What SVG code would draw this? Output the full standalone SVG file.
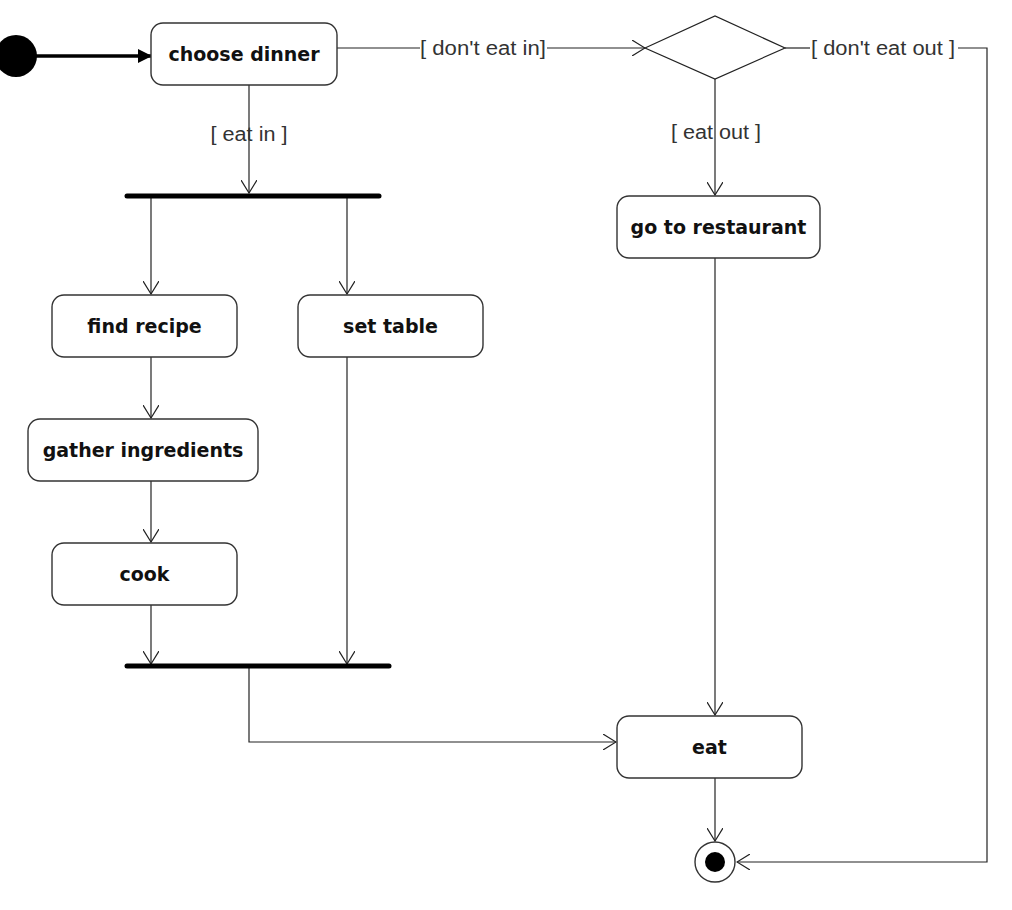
<svg xmlns="http://www.w3.org/2000/svg" width="1012" height="910" viewBox="0 0 1012 910">
<defs>
<style>
.box{fill:#fff;stroke:#333;stroke-width:1.4}
.nt{font-family:"DejaVu Sans",sans-serif;font-weight:bold;font-size:19px;fill:#111;text-anchor:middle}
.lb{font-family:"Liberation Sans",Arial,sans-serif;font-size:20px;fill:#333;text-anchor:middle}
.ln{fill:none;stroke:#222;stroke-width:1.2}
.bar{stroke:#000;stroke-width:5;stroke-linecap:round}
</style>
<marker id="open" viewBox="0 0 14 16" refX="13" refY="8" markerWidth="14" markerHeight="16" markerUnits="userSpaceOnUse" orient="auto">
<path d="M0,0 L13,8 L0,16" fill="none" stroke="#222" stroke-width="1.2"/>
</marker>
<marker id="solid" viewBox="0 0 14 14" refX="14" refY="7" markerWidth="14" markerHeight="14" markerUnits="userSpaceOnUse" orient="auto">
<path d="M0,0 L14,7 L0,14 Z" fill="#000"/>
</marker>
</defs>
<rect width="1012" height="910" fill="#fff"/>

<g id="connectors">
<line x1="36" y1="56" x2="152" y2="56" stroke="#000" stroke-width="3.5" marker-end="url(#solid)"/>
<line class="ln" x1="337" y1="48" x2="420" y2="48"/>
<line class="ln" x1="547" y1="48" x2="645" y2="48" marker-end="url(#open)"/>
<line class="ln" x1="249" y1="85" x2="249" y2="193" marker-end="url(#open)"/>
<line class="ln" x1="785" y1="48" x2="810" y2="48"/>
<polyline class="ln" points="958,48 987,48 987,862 737,862" marker-end="url(#open)"/>
<line class="ln" x1="715" y1="79" x2="715" y2="195" marker-end="url(#open)"/>
<line class="ln" x1="151" y1="196" x2="151" y2="294" marker-end="url(#open)"/>
<line class="ln" x1="347" y1="196" x2="347" y2="294" marker-end="url(#open)"/>
<line class="ln" x1="151" y1="357" x2="151" y2="418" marker-end="url(#open)"/>
<line class="ln" x1="151" y1="481" x2="151" y2="542" marker-end="url(#open)"/>
<line class="ln" x1="151" y1="605" x2="151" y2="664" marker-end="url(#open)"/>
<line class="ln" x1="347" y1="357" x2="347" y2="664" marker-end="url(#open)"/>
<polyline class="ln" points="249,666 249,742 616,742" marker-end="url(#open)"/>
<line class="ln" x1="715" y1="258" x2="715" y2="715" marker-end="url(#open)"/>
<line class="ln" x1="715" y1="778" x2="715" y2="841" marker-end="url(#open)"/>
<text class="lb" x="249" y="141" textLength="77" lengthAdjust="spacingAndGlyphs">[ eat in ]</text>
<text class="lb" x="483" y="55" textLength="126" lengthAdjust="spacingAndGlyphs">[ don't eat in]</text>
<text class="lb" x="883" y="55" textLength="144" lengthAdjust="spacingAndGlyphs">[ don't eat out ]</text>
<text class="lb" x="716" y="139" textLength="90" lengthAdjust="spacingAndGlyphs">[ eat out ]</text>
</g>

<g id="start"><circle cx="16" cy="56" r="21" fill="#000"/></g>

<g id="choose_dinner"><rect class="box" x="151" y="23" width="186" height="62" rx="12"/><text class="nt" x="244" y="61">choose dinner</text></g>

<g id="decision"><polygon points="645,48 715,16 785,48 715,79" fill="#fff" stroke="#222" stroke-width="1.2"/></g>

<g id="fork"><line class="bar" x1="127" y1="196" x2="379" y2="196"/></g>

<g id="go_to_restaurant"><rect class="box" x="617" y="196" width="203" height="62" rx="12"/><text class="nt" x="718.5" y="234">go to restaurant</text></g>

<g id="find_recipe"><rect class="box" x="52" y="295" width="185" height="62" rx="12"/><text class="nt" x="144.5" y="333">find recipe</text></g>

<g id="set_table"><rect class="box" x="298" y="295" width="185" height="62" rx="12"/><text class="nt" x="390.5" y="333">set table</text></g>

<g id="gather_ingredients"><rect class="box" x="28" y="419" width="230" height="62" rx="12"/><text class="nt" x="143" y="457">gather ingredients</text></g>

<g id="cook"><rect class="box" x="52" y="543" width="185" height="62" rx="12"/><text class="nt" x="144.5" y="581">cook</text></g>

<g id="join"><line class="bar" x1="127" y1="666" x2="389" y2="666"/></g>

<g id="eat"><rect class="box" x="617" y="716" width="185" height="62" rx="12"/><text class="nt" x="709.5" y="754">eat</text></g>

<g id="end"><circle cx="715" cy="862" r="20" fill="#fff" stroke="#333" stroke-width="1.4"/><circle cx="715" cy="862" r="10" fill="#000"/></g>
</svg>
